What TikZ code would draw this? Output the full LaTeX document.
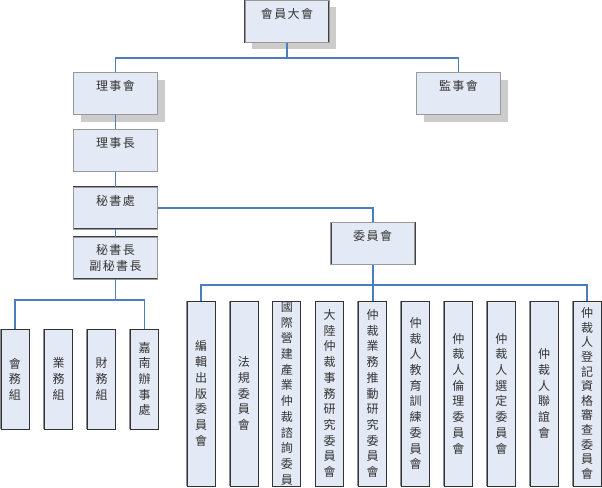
\documentclass[tikz,border=0pt]{standalone}
\usepackage{fontspec}
\setmainfont{Noto Sans CJK TC}
\newfontfamily\spacedcjk[LetterSpace=12]{Noto Sans CJK TC}
\usetikzlibrary{shadows}
\XeTeXlinebreaklocale "zh"
\XeTeXlinebreakskip=0pt plus 1pt

\definecolor{boxfill}{RGB}{228,234,245}
\definecolor{linkblue}{RGB}{74,126,192}
\definecolor{shadowgray}{RGB}{204,204,204}

\tikzset{
  orgbox/.style={draw=black!75, line width=0.6pt, double=black!40,
    double distance=0.7pt, fill=boxfill, minimum width=84pt,
    minimum height=42pt, inner sep=1pt, align=center,
    font=\spacedcjk\fontsize{12}{16}\selectfont, text=black!80},
  shadowed/.style={drop shadow={shadow xshift=7pt, shadow yshift=-7pt,
    fill=shadowgray, opacity=1}},
  unitbox/.style={draw=black!80, line width=0.8pt, fill=boxfill,
    minimum width=28pt, text width=14pt, inner sep=0pt, align=center,
    font=\fontsize{12}{15.7}\selectfont, text=black!80,
    drop shadow={shadow xshift=-1.2pt, shadow yshift=0pt,
    fill=black!45, opacity=1}},
  link/.style={draw=linkblue, line width=1.8pt}
}

\begin{document}
\begin{tikzpicture}[x=1pt,y=-1pt]
    \useasboundingbox (0,0) rectangle (602,487);

    % upper levels
    \node[orgbox,shadowed] (assembly) at (287,21.5) {會員大會\\\mbox{}};
    \node[orgbox,shadowed] (board) at (115.5,93.5) {理事會\\\mbox{}};
    \node[orgbox,shadowed] (supervisors) at (458.5,93.5) {監事會\\\mbox{}};
    \node[orgbox] (chairman) at (115.5,150.5) {理事長\\\mbox{}};
    \node[orgbox] (secretariat) at (115.5,208) {秘書處\\\mbox{}};
    \node[orgbox] (secgeneral) at (115.5,258) {秘書長\\副秘書長};
    \node[orgbox] (committee) at (372.6,243.5) {委員會\\\mbox{}};

    % sections under the secretariat
    \node[unitbox,minimum height=100pt] (sec1) at (15,379) {會務組};
    \node[unitbox,minimum height=100pt] (sec2) at (58.5,379) {業務組};
    \node[unitbox,minimum height=100pt] (sec3) at (101.5,379) {財務組};
    \node[unitbox,minimum height=100pt] (sec4) at (144.5,379) {嘉南辦事處};

    % committees
    \node[unitbox,minimum height=185pt] (cm1) at (201,393.5) {編輯出版委員會};
    \node[unitbox,minimum height=185pt] (cm2) at (243.9,393.5) {法規委員會};
    \node[unitbox,minimum height=185pt] (cm3) at (286.8,393.5) {國際營建產業仲裁諮詢委員};
    \node[unitbox,minimum height=185pt] (cm4) at (329.7,393.5) {大陸仲裁事務研究委員會};
    \node[unitbox,minimum height=185pt] (cm5) at (372.6,393.5) {仲裁業務推動研究委員會};
    \node[unitbox,minimum height=185pt] (cm6) at (415.5,393.5) {仲裁人教育訓練委員會};
    \node[unitbox,minimum height=185pt] (cm7) at (458.4,393.5) {仲裁人倫理委員會};
    \node[unitbox,minimum height=185pt] (cm8) at (501.3,393.5) {仲裁人選定委員會};
    \node[unitbox,minimum height=185pt] (cm9) at (544.2,393.5) {仲裁人聯誼會};
    \node[unitbox,minimum height=185pt,font=\fontsize{12}{14.6}\selectfont]
        (cm10) at (587.1,393.5) {仲裁人登記資格審查委員會};

    % connectors
    \coordinate (topbus) at (287,58);
    \coordinate (secbus) at (115.5,300);
    \coordinate (cmbus) at (372.6,285);
    \draw[link] (assembly.south) -- (topbus);
    \draw[link] (board.north) |- (topbus) -| (supervisors.north);
    \draw[link] (board) -- (chairman);
    \draw[link] (chairman) -- (secretariat);
    \draw[link] (secretariat) -- (secgeneral);
    \draw[link] (secretariat.east) -| (committee.north);
    \draw[link] (secgeneral.south) -- (secbus);
    \draw[link] (sec1.north) |- (secbus) -| (sec4.north);
    \draw[link] (committee.south) -- (cm5.north);
    \draw[link] (cm1.north) |- (cmbus) -| (cm10.north);
\end{tikzpicture}
\end{document}
